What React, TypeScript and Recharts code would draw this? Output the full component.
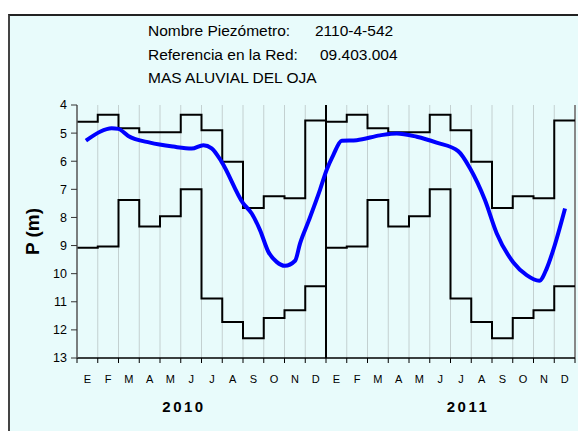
import React from "react";
import { ComposedChart, Line, XAxis, YAxis, ReferenceLine } from "recharts";

const FONT = "'Liberation Sans', Arial, sans-serif";

const MONTHS = ["E", "F", "M", "A", "M", "J", "J", "A", "S", "O", "N", "D"];
const YEARS = ["2010", "2011"];
const Y_TICKS = [4, 5, 6, 7, 8, 9, 10, 11, 12, 13];

// envelope of historical depths per month (same for both years)
const maxDepth = [4.6, 4.35, 4.83, 4.97, 4.97, 4.35, 4.9, 6.02, 7.66, 7.25, 7.32, 4.55];
const minDepth = [9.08, 9.03, 7.38, 8.32, 7.96, 7.0, 10.88, 11.72, 12.3, 11.58, 11.3, 10.45];

// measured level: months since Jan 2010 / depth (m)
const levelMonth = [
  0.43, 1.11, 1.67, 1.99, 2.47, 3.52, 4.64, 5.53, 6.09, 6.49, 6.97, 8.01, 8.42,
  8.82, 9.22, 9.62, 10.02, 10.51, 10.75, 11.15, 11.71, 12.03, 12.35, 12.76,
  13.48, 14.6, 15.41, 16.37, 17.33, 18.37, 18.94, 19.66, 20.23, 21.03, 21.67,
  22.28, 22.64, 22.95, 23.52,
];
const levelDepth = [
  5.27, 4.95, 4.83, 4.85, 5.1, 5.34, 5.48, 5.55, 5.43, 5.54, 6.02, 7.5, 7.86,
  8.45, 9.22, 9.58, 9.72, 9.54, 8.92, 8.15, 7.02, 6.31, 5.78, 5.27, 5.25, 5.08,
  5.01, 5.13, 5.34, 5.64, 6.25, 7.38, 8.57, 9.6, 10.05, 10.25, 9.81, 9.16, 7.68,
];

const nMonths = MONTHS.length * YEARS.length;
const edges = Array.from({ length: nMonths + 1 }, (_, i) => i);
const halfTicks = Array.from({ length: nMonths * 2 + 1 }, (_, i) => i / 2);

const stepData = edges.map((m) => {
  const k = Math.min(m, nMonths - 1) % 12;
  return { m, max: maxDepth[k], min: minDepth[k] };
});
const levelData = levelMonth.map((m, i) => ({ m, nivel: levelDepth[i] }));

// bottom axis: tick marks on month edges, letters in the middle of each month
const MonthTick = (props: any) => {
  const { x, y, payload } = props;
  const v = payload.value;
  if (Number.isInteger(v)) {
    return <line x1={x} x2={x} y1={y} y2={y + 5} stroke="#000" strokeWidth={1} />;
  }
  return (
    <text x={x} y={y + 25} textAnchor="middle" fontSize={11} fontFamily={FONT} fill="#000">
      {MONTHS[Math.floor(v) % 12]}
    </text>
  );
};

export default function App() {
  return (
    <div
      style={{
        position: "absolute",
        top: 8,
        left: 8,
        width: 570,
        height: 423,
        overflow: "hidden",
      }}
    >
      <div
        style={{
          position: "absolute",
          top: 6,
          left: 0,
          width: 600,
          height: 450,
          boxSizing: "border-box",
          borderTop: "2px solid #222",
          borderLeft: "2px solid #444",
          background: "#e8fbfb",
        }}
      />
      <div style={{ position: "absolute", top: 0, left: 0 }}>
        <ComposedChart width={570} height={423} margin={{ top: 97, right: 3, bottom: 43, left: 0 }}>
          <XAxis
            dataKey="m"
            type="number"
            domain={[0, nMonths]}
            ticks={halfTicks}
            interval={0}
            tick={<MonthTick />}
            tickLine={false}
            tickSize={0}
            tickMargin={0}
            height={30}
            axisLine={{ stroke: "#000", strokeWidth: 1.5 }}
            allowDataOverflow
          />
          <XAxis
            xAxisId="top"
            orientation="top"
            dataKey="m"
            type="number"
            domain={[0, nMonths]}
            ticks={edges}
            interval={0}
            tickFormatter={() => ""}
            tickSize={4}
            height={0}
            axisLine={{ stroke: "#000", strokeWidth: 1.5 }}
            tickLine={{ stroke: "#000" }}
            allowDataOverflow
          />
          <YAxis
            type="number"
            domain={[4, 13]}
            reversed
            ticks={Y_TICKS}
            interval={0}
            width={69}
            tickSize={6}
            tickMargin={4}
            axisLine={{ stroke: "#555", strokeWidth: 1.5 }}
            tickLine={{ stroke: "#333" }}
            tick={{ fontSize: 12.5, fill: "#000", fontFamily: FONT }}
            allowDataOverflow
            label={{
              content: ({ viewBox }: any) => {
                const cx = viewBox.x + 24;
                const cy = viewBox.y + viewBox.height / 2;
                return (
                  <text
                    x={cx}
                    y={cy}
                    transform={`rotate(-90, ${cx}, ${cy})`}
                    textAnchor="middle"
                    dominantBaseline="central"
                    fontSize={19}
                    fontWeight="bold"
                    fontFamily={FONT}
                    fill="#000"
                  >
                    P (m)
                  </text>
                );
              },
            }}
          />
          {edges
            .filter((e) => e > 0 && e < nMonths && e !== 12)
            .map((e) => (
              <ReferenceLine key={e} x={e} stroke="#c3d0d0" strokeWidth={1} />
            ))}
          <ReferenceLine x={nMonths} stroke="#888" strokeWidth={2} />
          <ReferenceLine x={12} stroke="#000" strokeWidth={2} />
          <Line
            data={stepData}
            dataKey="max"
            type="stepAfter"
            stroke="#000"
            strokeWidth={2}
            dot={false}
            isAnimationActive={false}
          />
          <Line
            data={stepData}
            dataKey="min"
            type="stepAfter"
            stroke="#000"
            strokeWidth={2}
            dot={false}
            isAnimationActive={false}
          />
          <Line
            data={levelData}
            dataKey="nivel"
            type="monotone"
            stroke="#0000ff"
            strokeWidth={4}
            dot={false}
            isAnimationActive={false}
          />
        </ComposedChart>
      </div>
      <svg
        width={570}
        height={423}
        style={{ position: "absolute", top: 0, left: 0, pointerEvents: "none" }}
        fontFamily={FONT}
      >
        <g fontSize={15.5} fill="#000">
          <text x={140} y={28}>Nombre Piezómetro:</text>
          <text x={307} y={28}>2110-4-542</text>
          <text x={140} y={52}>Referencia en la Red:</text>
          <text x={312} y={52}>09.403.004</text>
          <text x={140} y={75}>MAS ALUVIAL DEL OJA</text>
        </g>
        <g fontSize={15} fontWeight="bold" letterSpacing={2.5} textAnchor="middle" fill="#000">
          <text x={176} y={404}>{YEARS[0]}</text>
          <text x={460} y={404}>{YEARS[1]}</text>
        </g>
      </svg>
    </div>
  );
}
